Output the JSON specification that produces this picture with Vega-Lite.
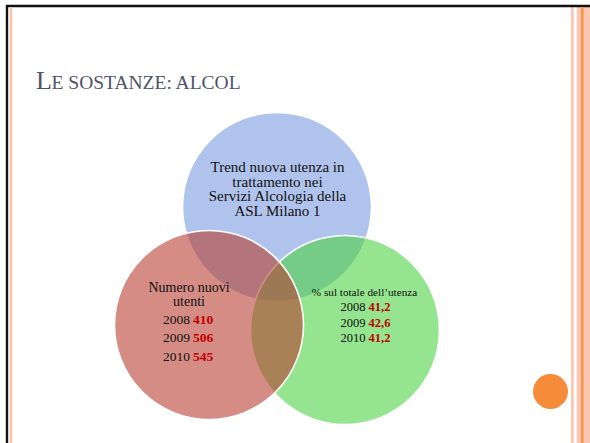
{
  "$schema": "https://vega.github.io/schema/vega-lite/v6.json",
  "width": 590,
  "height": 443,
  "padding": 0,
  "autosize": {"type": "none"},
  "background": "white",
  "config": {"view": {"stroke": null}},
  "datasets": {
    "frame": [
      {"part": "black", "x1": 6, "x2": 590, "y1": 6, "y2": 6},
      {"part": "black", "x1": 7, "x2": 7, "y1": 5, "y2": 443},
      {"part": "salmon", "x1": 11, "x2": 11, "y1": 7, "y2": 443},
      {"part": "orange", "x1": 582.3, "x2": 582.3, "y1": 7, "y2": 443}
    ],
    "stripes": [
      {"x1": 571, "x2": 573.7, "y1": 7, "y2": 443},
      {"x1": 576.7, "x2": 590, "y1": 7, "y2": 443}
    ],
    "circles": [
      {"name": "Trend", "x": 277, "y": 207},
      {"name": "Percentuale", "x": 345, "y": 330},
      {"name": "Numero", "x": 209, "y": 325}
    ],
    "dot": [{"name": "marker", "x": 550.5, "y": 391.5}],
    "labels": [
      {"role": "titleBig", "label": "L", "x": 36, "y": 89},
      {"role": "titleSmall", "label": "E SOSTANZE: ALCOL", "x": 51.5, "y": 89},
      {"role": "blue", "label": "Trend nuova utenza in", "x": 277.5, "y": 167},
      {"role": "blue", "label": "trattamento nei", "x": 277.5, "y": 181.5},
      {"role": "blue", "label": "Servizi Alcologia della", "x": 277.5, "y": 196},
      {"role": "blue", "label": "ASL Milano 1", "x": 277.5, "y": 210.5},
      {"role": "red", "label": "Numero nuovi", "x": 189, "y": 288},
      {"role": "red", "label": "utenti", "x": 189, "y": 302},
      {"role": "green", "label": "% sul totale dell’utenza", "x": 364.5, "y": 293}
    ],
    "values": [
      {"set": "Numero", "year": "2008", "value": "410", "x": 191.5, "y": 320},
      {"set": "Numero", "year": "2009", "value": "506", "x": 191.5, "y": 338},
      {"set": "Numero", "year": "2010", "value": "545", "x": 191.5, "y": 357},
      {"set": "Percentuale", "year": "2008", "value": "41,2", "x": 367, "y": 307},
      {"set": "Percentuale", "year": "2009", "value": "42,6", "x": 367, "y": 323},
      {"set": "Percentuale", "year": "2010", "value": "41,2", "x": 367, "y": 338}
    ]
  },
  "encoding": {
    "x": {"field": "x", "type": "quantitative", "scale": {"domain": [0, 590], "nice": false, "zero": false}, "axis": null},
    "y": {"field": "y", "type": "quantitative", "scale": {"domain": [0, 443], "nice": false, "zero": false, "reverse": true}, "axis": null}
  },
  "layer": [
    {
      "data": {"name": "stripes"},
      "mark": {"type": "rect", "color": "#fcc6b3"},
      "encoding": {
        "x": {"field": "x1", "type": "quantitative", "scale": {"domain": [0, 590], "nice": false, "zero": false}, "axis": null},
        "x2": {"field": "x2"},
        "y": {"field": "y1", "type": "quantitative", "scale": {"domain": [0, 443], "nice": false, "zero": false, "reverse": true}, "axis": null},
        "y2": {"field": "y2"}
      }
    },
    {
      "data": {"name": "frame"},
      "mark": {"type": "rule"},
      "encoding": {
        "x": {"field": "x1", "type": "quantitative", "scale": {"domain": [0, 590], "nice": false, "zero": false}, "axis": null},
        "x2": {"field": "x2"},
        "y": {"field": "y1", "type": "quantitative", "scale": {"domain": [0, 443], "nice": false, "zero": false, "reverse": true}, "axis": null},
        "y2": {"field": "y2"},
        "stroke": {"field": "part", "type": "nominal", "scale": {"domain": ["black", "salmon", "orange"], "range": ["#111111", "#fbc2ad", "#f79646"]}, "legend": null},
        "strokeWidth": {"field": "part", "type": "nominal", "scale": {"domain": ["black", "salmon", "orange"], "range": [2.4, 2.6, 1.3]}, "legend": null}
      }
    },
    {
      "data": {"name": "circles"},
      "transform": [{"filter": "datum.name === 'Trend'"}],
      "mark": {"type": "point", "shape": "circle", "filled": true, "size": 35721, "strokeWidth": 1.6, "stroke": "white", "fillOpacity": 1, "opacity": 1},
      "encoding": {
        "fill": {"field": "name", "type": "nominal", "scale": {"domain": ["Trend", "Percentuale", "Numero"], "range": ["#b0c3ec", "#4ed245", "#b73f32"]}, "legend": null}
      }
    },
    {
      "data": {"name": "circles"},
      "transform": [{"filter": "datum.name !== 'Trend'"}],
      "mark": {"type": "point", "shape": "circle", "filled": true, "size": 35721, "strokeWidth": 1.6, "stroke": "white", "strokeOpacity": 1, "fillOpacity": 0.6, "opacity": 1},
      "encoding": {
        "fill": {"field": "name", "type": "nominal", "scale": {"domain": ["Trend", "Percentuale", "Numero"], "range": ["#b0c3ec", "#4ed245", "#b73f32"]}, "legend": null}
      }
    },
    {
      "data": {"name": "dot"},
      "mark": {"type": "point", "shape": "circle", "filled": true, "size": 1225, "fill": "#f68b3a", "opacity": 1}
    },
    {
      "data": {"name": "labels"},
      "transform": [{"filter": "datum.role === 'titleBig'"}],
      "mark": {"type": "text", "align": "left", "baseline": "alphabetic", "font": "Liberation Serif", "fontSize": 26, "fill": "#4f5466"},
      "encoding": {"text": {"field": "label"}}
    },
    {
      "data": {"name": "labels"},
      "transform": [{"filter": "datum.role === 'titleSmall'"}],
      "mark": {"type": "text", "align": "left", "baseline": "alphabetic", "font": "Liberation Serif", "fontSize": 19.5, "fill": "#4f5466"},
      "encoding": {"text": {"field": "label"}}
    },
    {
      "data": {"name": "labels"},
      "transform": [{"filter": "datum.role === 'blue'"}],
      "mark": {"type": "text", "align": "center", "baseline": "middle", "font": "Liberation Serif", "fontSize": 15, "fill": "#111111"},
      "encoding": {"text": {"field": "label"}}
    },
    {
      "data": {"name": "labels"},
      "transform": [{"filter": "datum.role === 'red'"}],
      "mark": {"type": "text", "align": "center", "baseline": "middle", "font": "Liberation Serif", "fontSize": 14, "fill": "#111111"},
      "encoding": {"text": {"field": "label"}}
    },
    {
      "data": {"name": "labels"},
      "transform": [{"filter": "datum.role === 'green'"}],
      "mark": {"type": "text", "align": "center", "baseline": "middle", "font": "Liberation Serif", "fontSize": 11.2, "fill": "#111111"},
      "encoding": {"text": {"field": "label"}}
    },
    {
      "data": {"name": "values"},
      "transform": [{"filter": "datum.set === 'Numero'"}],
      "mark": {"type": "text", "align": "right", "baseline": "middle", "dx": -1.5, "font": "Liberation Serif", "fontSize": 13.5, "fill": "#111111"},
      "encoding": {"text": {"field": "year"}}
    },
    {
      "data": {"name": "values"},
      "transform": [{"filter": "datum.set === 'Numero'"}],
      "mark": {"type": "text", "align": "left", "baseline": "middle", "dx": 1.5, "font": "Liberation Serif", "fontSize": 13.5, "fontWeight": "bold", "fill": "#c00000"},
      "encoding": {"text": {"field": "value"}}
    },
    {
      "data": {"name": "values"},
      "transform": [{"filter": "datum.set === 'Percentuale'"}],
      "mark": {"type": "text", "align": "right", "baseline": "middle", "dx": -1.5, "font": "Liberation Serif", "fontSize": 12.5, "fill": "#111111"},
      "encoding": {"text": {"field": "year"}}
    },
    {
      "data": {"name": "values"},
      "transform": [{"filter": "datum.set === 'Percentuale'"}],
      "mark": {"type": "text", "align": "left", "baseline": "middle", "dx": 1.5, "font": "Liberation Serif", "fontSize": 12.5, "fontWeight": "bold", "fill": "#c00000"},
      "encoding": {"text": {"field": "value"}}
    }
  ]
}
